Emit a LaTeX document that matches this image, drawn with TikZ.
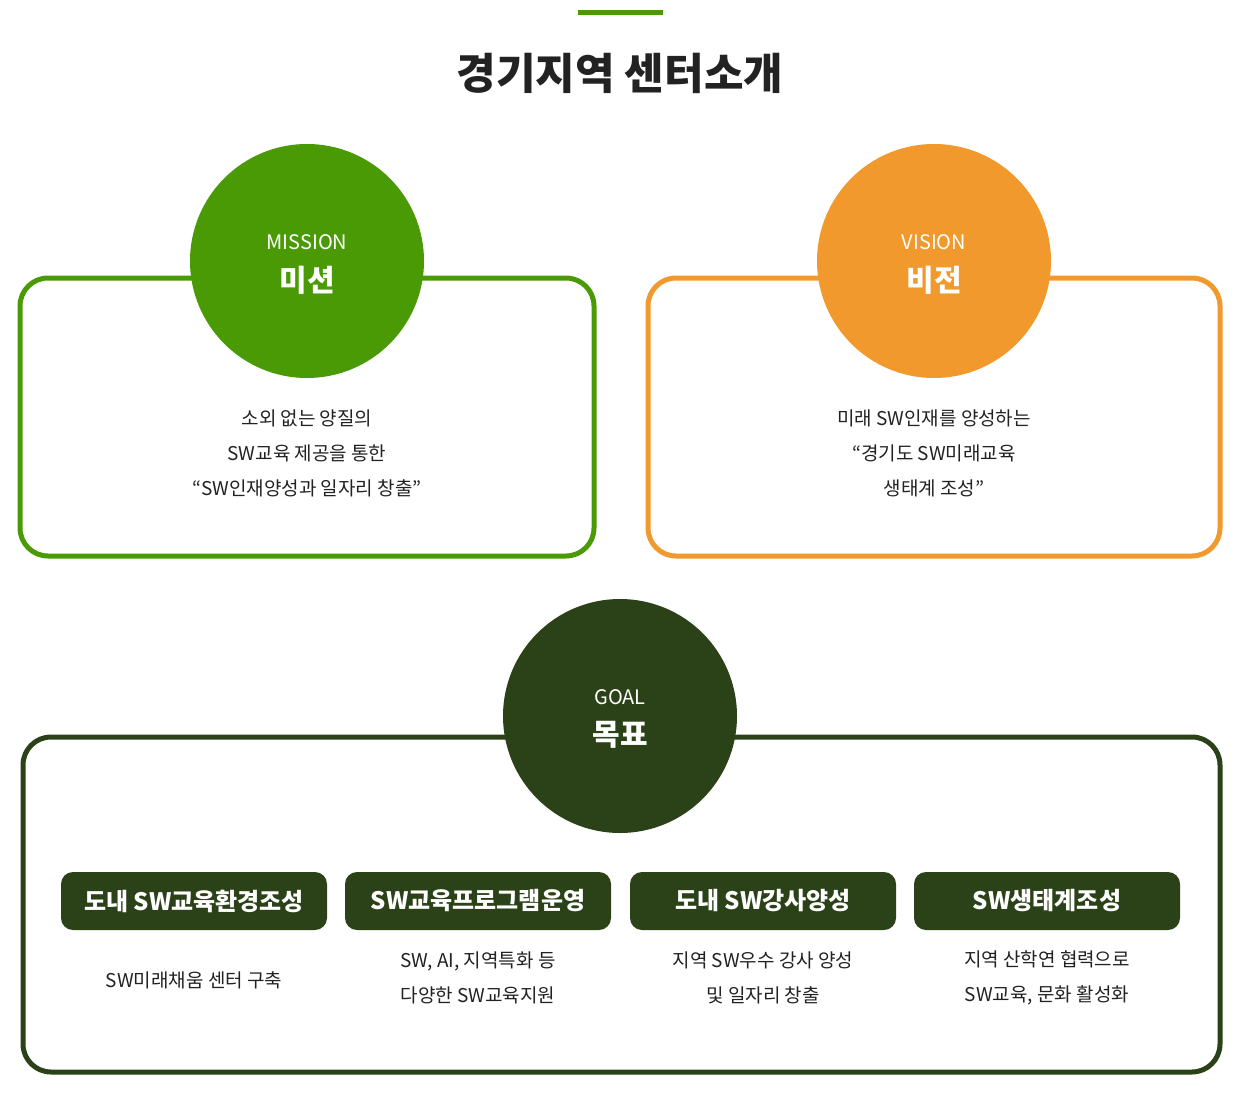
\documentclass[tikz,border=0pt]{standalone}
\usepackage{fontspec}
\setmainfont{Noto Sans CJK KR}
\usetikzlibrary{positioning}
\definecolor{mgreen}{HTML}{4A9A06}
\definecolor{vorange}{HTML}{F2992E}
\definecolor{gdark}{HTML}{2B4218}
\definecolor{txt}{HTML}{222222}
\begin{document}
\begin{tikzpicture}[x=1pt,y=-1pt,
  frame/.style={line width=5pt,rounded corners=28pt},
  bigcirc/.style={circle,minimum size=234pt,inner sep=0pt},
  engl/.style={font=\fontsize{20}{24}\selectfont,text=white},
  kor/.style={font=\fontsize{30}{34}\selectfont\bfseries,text=white},
  desc/.style={font=\fontsize{19}{35}\selectfont,text=txt,align=center},
  pill/.style={fill=gdark,rounded corners=12pt,minimum width=266pt,minimum height=58pt,inner sep=0pt,text=white,font=\fontsize{24}{28}\selectfont\bfseries}
]
\useasboundingbox[fill=white] (0,0) rectangle (1248,1097);
% top bar and title
\fill[mgreen] (578,10) rectangle (663,15);
\node[font=\fontsize{43}{48}\selectfont\bfseries,text=txt] (title) at (620,73) {경기지역 센터소개};
% mission
\draw[mgreen,frame] (20,278) rectangle (594,556);
\node[bigcirc,fill=mgreen] (mc) at (307,261) {};
\node[engl] (mE) at (307,242) {MISSION};
\node[kor] (mK) at (307,280) {미션};
\node[desc] (mD) at (307,453) {소외 없는 양질의\\SW교육 제공을 통한\\“SW인재양성과 일자리 창출”};
% vision
\draw[vorange,frame] (648,278) rectangle (1220,556);
\node[bigcirc,fill=vorange] (vc) at (934,261) {};
\node[engl] (vE) at (934,242) {VISION};
\node[kor] (vK) at (934,280) {비전};
\node[desc] (vD) at (934,453) {미래 SW인재를 양성하는\\“경기도 SW미래교육\\생태계 조성”};
% goal
\draw[gdark,frame] (23,737) rectangle (1220,1072);
\node[bigcirc,fill=gdark] (gc) at (620,716) {};
\node[engl] (gE) at (620,697) {GOAL};
\node[kor] (gK) at (620,735) {목표};
\node[pill] (p1) at (194,901) {\raisebox{-2pt}{도내 SW교육환경조성}};
\node[pill] (p2) at (478,901) {\raisebox{-2pt}{SW교육프로그램운영}};
\node[pill] (p3) at (763,901) {\raisebox{-2pt}{도내 SW강사양성}};
\node[pill] (p4) at (1047,901) {\raisebox{-2pt}{SW생태계조성}};
\node[desc] (d1) at (194,980) {SW미래채움 센터 구축};
\node[desc] (d2) at (478,978) {SW, AI, 지역특화 등\\다양한 SW교육지원};
\node[desc] (d3) at (763,978) {지역 SW우수 강사 양성\\및 일자리 창출};
\node[desc] (d4) at (1047,978) {지역 산학연 협력으로\\SW교육, 문화 활성화};
\end{tikzpicture}
\end{document}
